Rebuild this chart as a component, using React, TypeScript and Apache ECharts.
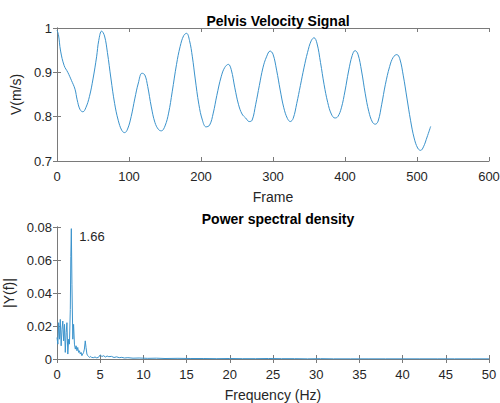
import React, { useEffect, useRef } from "react";
import * as echarts from "echarts";

const frames = [0, 2, 5, 10, 15, 20, 25, 28, 32, 36, 40, 45, 50, 55, 58, 62, 66, 70, 75, 80, 85, 90, 94, 98, 103, 108, 113, 118, 122, 126, 131, 136, 141, 145, 150, 155, 160, 166, 171, 176, 180, 184, 188, 192, 197, 202, 207, 212, 217, 222, 228, 233, 238, 242, 247, 252, 257, 262, 267, 271, 276, 281, 286, 291, 296, 300, 305, 310, 315, 320, 324, 328, 333, 338, 343, 348, 353, 357, 361, 366, 371, 376, 381, 386, 390, 395, 400, 405, 410, 414, 418, 423, 428, 433, 438, 442, 446, 451, 456, 462, 467, 472, 476, 481, 486, 491, 496, 501, 505, 509, 514, 519];
const velocity = [0.995, 0.985, 0.948, 0.915, 0.9, 0.882, 0.862, 0.838, 0.816, 0.811, 0.82, 0.845, 0.885, 0.935, 0.972, 0.993, 0.982, 0.945, 0.885, 0.83, 0.792, 0.769, 0.764, 0.772, 0.8, 0.84, 0.876, 0.898, 0.894, 0.868, 0.822, 0.787, 0.771, 0.768, 0.779, 0.808, 0.856, 0.918, 0.958, 0.983, 0.988, 0.972, 0.935, 0.885, 0.828, 0.792, 0.777, 0.781, 0.808, 0.848, 0.89, 0.911, 0.918, 0.906, 0.865, 0.828, 0.806, 0.797, 0.789, 0.792, 0.828, 0.87, 0.91, 0.935, 0.948, 0.941, 0.905, 0.86, 0.82, 0.796, 0.789, 0.796, 0.83, 0.87, 0.91, 0.945, 0.971, 0.978, 0.966, 0.922, 0.872, 0.832, 0.806, 0.797, 0.8, 0.82, 0.858, 0.903, 0.938, 0.949, 0.941, 0.903, 0.853, 0.812, 0.788, 0.783, 0.79, 0.828, 0.872, 0.913, 0.934, 0.94, 0.931, 0.892, 0.842, 0.792, 0.752, 0.729, 0.724, 0.732, 0.754, 0.778];

const freqs = [0, 0.1, 0.19, 0.29, 0.38, 0.48, 0.58, 0.67, 0.77, 0.87, 0.96, 1.06, 1.15, 1.25, 1.35, 1.44, 1.54, 1.6, 1.66, 1.73, 1.83, 1.92, 2.02, 2.12, 2.21, 2.31, 2.4, 2.5, 2.6, 2.69, 2.79, 2.88, 2.98, 3.08, 3.17, 3.27, 3.36, 3.46, 3.56, 3.65, 3.75, 3.85, 4.0, 4.2, 4.4, 4.6, 4.8, 5.0, 5.2, 5.4, 5.6, 5.8, 6.0, 6.3, 6.6, 6.9, 7.2, 7.5, 7.8, 8.2, 8.8, 9.5, 10.5, 11.5, 12.5, 14, 15.5, 17, 18.5, 20, 21.5, 23, 24.5, 26, 27.5, 29, 30.5, 32, 34, 36, 38, 40, 42, 44, 46, 48, 50];
const psd = [0.013, 0.009, 0.022, 0.012, 0.024, 0.008, 0.018, 0.023, 0.011, 0.021, 0.004, 0.016, 0.022, 0.003, 0.012, 0.009, 0.03, 0.062, 0.079, 0.045, 0.012, 0.021, 0.009, 0.006, 0.008, 0.005, 0.007, 0.004, 0.005, 0.003, 0.004, 0.002, 0.003, 0.004, 0.006, 0.011, 0.007, 0.003, 0.002, 0.0015, 0.001, 0.0015, 0.001, 0.0008, 0.0012, 0.0007, 0.001, 0.0025, 0.0015, 0.002, 0.0012, 0.0018, 0.0014, 0.0016, 0.0009, 0.0013, 0.0008, 0.001, 0.0006, 0.0008, 0.0005, 0.0006, 0.0004, 0.0005, 0.0003, 0.0004, 0.0003, 0.0003, 0.0002, 0.0003, 0.0002, 0.0002, 0.0003, 0.0002, 0.0002, 0.0001, 0.0002, 0.0001, 0.0001, 0.0001, 0.0001, 0.0001, 0.0001, 0.0001, 0.0001, 0.0001, 0.0001];

const peakFreq = 1.66;
const peakValue = 0.079;
const peakLabel = "1.66";

const LINE = "#3b93cc";
const AXIS = "#7a7a7a";
const TEXT = "#262626";
const FONT = "'Liberation Sans', Arial, sans-serif";

export default function App() {
  const ref = useRef<HTMLDivElement>(null);
  useEffect(() => {
    const chart = echarts.init(ref.current!, null, { renderer: "svg" });
    const axisLine = { show: true, lineStyle: { color: AXIS, width: 1 } };
    const tick = { show: true, inside: true, length: 4, lineStyle: { color: AXIS } };
    const label = { color: TEXT, fontSize: 13, fontFamily: FONT };
    const mkX = (grid: number, min: number, max: number, interval: number, name: string) => [
      {
        type: "value", gridIndex: grid, min, max, interval, position: "bottom",
        axisLine, axisTick: tick, splitLine: { show: false },
        axisLabel: { ...label, margin: 9 },
        name, nameLocation: "middle", nameGap: 29,
        nameTextStyle: { color: TEXT, fontSize: 14, fontFamily: FONT },
      },
      {
        type: "value", gridIndex: grid, min, max, interval, position: "top",
        axisLine, axisTick: tick, splitLine: { show: false }, axisLabel: { show: false },
      },
    ];
    const mkY = (grid: number, min: number, max: number, interval: number, name: string, gap: number) => [
      {
        type: "value", gridIndex: grid, min, max, interval, position: "left",
        axisLine, axisTick: tick, splitLine: { show: false },
        axisLabel: { ...label, margin: 5 },
        name, nameLocation: "middle", nameGap: gap, nameRotate: 90,
        nameTextStyle: { color: TEXT, fontSize: 14, fontFamily: FONT },
      },
      {
        type: "value", gridIndex: grid, min, max, interval, position: "right",
        axisLine, axisTick: tick, splitLine: { show: false }, axisLabel: { show: false },
      },
    ];
    chart.setOption({
      animation: false,
      backgroundColor: "#fff",
      title: [
        {
          text: "Pelvis Velocity Signal", left: 273, top: 9, textAlign: "center",
          textStyle: { fontSize: 14, fontWeight: "bold", color: "#000", fontFamily: FONT },
        },
        {
          text: "Power spectral density", left: 273, top: 207, textAlign: "center",
          textStyle: { fontSize: 14, fontWeight: "bold", color: "#000", fontFamily: FONT },
        },
      ],
      grid: [
        { left: 57, top: 28, width: 432, height: 133, outerBoundsMode: "none", containLabel: false },
        { left: 57, top: 227, width: 432, height: 132, outerBoundsMode: "none", containLabel: false },
      ],
      xAxis: [...mkX(0, 0, 600, 100, "Frame"), ...mkX(1, 0, 50, 5, "Frequency (Hz)")],
      yAxis: [...mkY(0, 0.7, 1, 0.1, "V(m/s)", 33), ...mkY(1, 0, 0.08, 0.02, "|Y(f)|", 39)],
      series: [
        {
          type: "line", xAxisIndex: 0, yAxisIndex: 0, showSymbol: false, smooth: 0.4,
          lineStyle: { color: LINE, width: 1 },
          data: frames.map((f, i) => [f, velocity[i]]),
        },
        {
          type: "line", xAxisIndex: 2, yAxisIndex: 2, showSymbol: false,
          lineStyle: { color: LINE, width: 1 },
          data: freqs.map((f, i) => [f, psd[i]]),
          markPoint: {
            symbol: "circle", symbolSize: 0,
            data: [{ coord: [peakFreq, peakValue] }],
            label: {
              show: true, formatter: peakLabel, position: "right", offset: [3, 8],
              color: TEXT, fontSize: 13, fontFamily: FONT,
            },
          },
        },
      ],
    });
    return () => chart.dispose();
  }, []);
  return <div ref={ref} style={{ width: 500, height: 403, position: "absolute", left: 0, top: 0 }} />;
}
